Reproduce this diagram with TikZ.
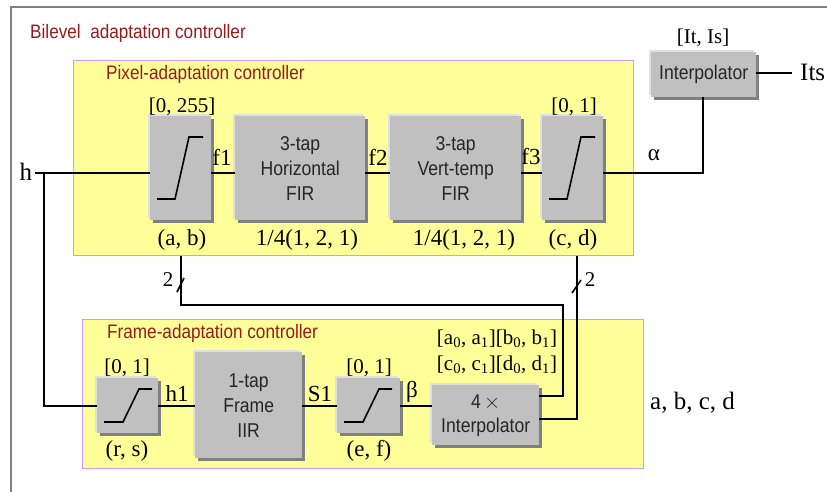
\documentclass[tikz,border=0pt]{standalone}
\usepackage{fontspec}
\setmainfont{Liberation Serif}
\newfontfamily\sansx[FakeStretch=0.88]{Liberation Sans}
\usetikzlibrary{shadows}
\definecolor{titlered}{RGB}{150,28,28}
\definecolor{padyellow}{RGB}{255,255,153}
\definecolor{padborder}{RGB}{204,153,255}
\definecolor{boxgray}{RGB}{192,192,192}
\definecolor{boxdark}{RGB}{128,128,128}
\definecolor{boxlight}{RGB}{224,224,224}
\tikzset{
  pad/.style={fill=padyellow, draw=padborder, line width=1.3pt, inner sep=0pt, anchor=north west},
  blockbox/.style={fill=boxgray, draw=none, inner sep=0pt, anchor=north west,
    general shadow={fill=boxlight, shadow xshift=-2pt, shadow yshift=2pt},
    general shadow={fill=boxdark, shadow xshift=3pt, shadow yshift=-3pt},
    font=\sansx\fontsize{20}{25}\selectfont, align=center, text=black!85},
  title/.style={anchor=west, inner sep=0pt, text=titlered, font=\sansx\fontsize{19.5}{22}\selectfont},
  lab/.style={inner sep=0pt, font=\fontsize{23}{26}\selectfont},
  brk/.style={inner sep=0pt, font=\fontsize{21}{24}\selectfont},
  big/.style={inner sep=0pt, font=\fontsize{25}{28}\selectfont},
  wire/.style={line width=1.6pt, black},
  curve/.style={line width=1.6pt, black},
}
\begin{document}
\begin{tikzpicture}[x=1pt,y=-1pt]
\useasboundingbox (0,0) rectangle (827,492);
\fill[white] (0,0) rectangle (827,492);
% outer frame
\draw[boxdark, line width=1.5pt] (11,492) -- (11,7) -- (827,7);
\node[title] (t0) at (30,33) {Bilevel\ \ adaptation controller};

% pads
\node[pad, minimum width=560pt, minimum height=195pt] (pixpad) at (73,60) {};
\node[pad, minimum width=561pt, minimum height=149pt] (framepad) at (82,319) {};
\node[title] (t1) at (106,74) {Pixel-adaptation controller};
\node[title] (t2) at (107,333) {Frame-adaptation controller};

% pixel blocks
\node[blockbox, minimum width=61pt, minimum height=104pt] (sat1) at (150,116) {};
\node[blockbox, minimum width=130pt, minimum height=104pt] (hfir) at (235,116) {3-tap\\Horizontal\\FIR};
\node[blockbox, minimum width=131pt, minimum height=104pt] (vfir) at (390,116) {3-tap\\Vert-temp\\FIR};
\node[blockbox, minimum width=61pt, minimum height=104pt] (sat2) at (542,116) {};
\node[blockbox, minimum width=105pt, minimum height=45pt] (interp) at (651,52) {Interpolator};

% frame blocks
\node[blockbox, minimum width=61pt, minimum height=55pt] (satr) at (97,378) {};
\node[blockbox, minimum width=107pt, minimum height=106pt] (iir) at (195,352) {1-tap\\Frame\\IIR};
\node[blockbox, minimum width=63pt, minimum height=55pt] (sate) at (337,378) {};
\node[blockbox, minimum width=107pt, minimum height=60pt] (interp4) at (432,385) {4\,$\times$\\[-1pt]Interpolator};

% saturation curves
\draw[curve] (157,199) -- (175,199) -- (189,137) -- (203,137);
\draw[curve] (549,199) -- (567,199) -- (581,137) -- (595,137);
\draw[curve] (104,422) -- (123,422) -- (139,389) -- (152,389);
\draw[curve] (344,422) -- (363,422) -- (379,389) -- (392,389);

% labels
\node[big] (lh) at (26,172) {h};
\node[brk] (l255) at (182,107) {[0, 255]};
\node[lab] (lab) at (182,240) {(a, b)};
\node[lab] (lf1) at (222,157) {f1};
\node[lab] (lf2) at (378,157) {f2};
\node[lab] (lf3) at (531,157) {f3};
\node[brk] (l01a) at (574,107) {[0, 1]};
\node[lab] (lcd) at (573,240) {(c, d)};
\node[lab] (lq1) at (307,240) {1/4(1, 2, 1)};
\node[lab] (lq2) at (464,240) {1/4(1, 2, 1)};
\node[lab] (lal) at (654,155) {α};
\node[brk] (lits) at (703,38) {[It, Is]};
\node[big, anchor=west] (lout) at (800,72) {Its};
\node[brk] (l01b) at (127,368) {[0, 1]};
\node[lab] (lrs) at (127,451) {(r, s)};
\node[lab] (lh1) at (177,394) {h1};
\node[lab] (ls1) at (320,394) {S1};
\node[brk] (l01c) at (369,368) {[0, 1]};
\node[lab] (lef) at (369,451) {(e, f)};
\node[lab] (lbe) at (412,392) {β};
\node[brk] (lab1) at (497,339) {[a\textsubscript{0}, a\textsubscript{1}][b\textsubscript{0}, b\textsubscript{1}]};
\node[brk] (lab2) at (497,365) {[c\textsubscript{0}, c\textsubscript{1}][d\textsubscript{0}, d\textsubscript{1}]};
\node[big, anchor=west] (labcd) at (650,403) {a, b, c, d};
\node[brk] (l2a) at (168,280) {2};
\node[brk] (l2b) at (590,280) {2};

% coordinates
\coordinate (hs) at (35,173);
\coordinate (hj) at (44,173);
\coordinate (aj) at (703,173);
\coordinate (oe) at (792,73);
\coordinate (b1) at (181,305);
\coordinate (b2) at (563,305);
\coordinate (c1) at (577,305);

% wires
\draw[wire] (hs) -- (sat1.west |- hs);
\draw[wire] (hj) |- (satr.west);
\draw[wire] (sat1.east |- hs) -- (hfir.west |- hs);
\draw[wire] (hfir.east |- hs) -- (vfir.west |- hs);
\draw[wire] (vfir.east |- hs) -- (sat2.west |- hs);
\draw[wire] (sat2.east |- hs) -- (aj) -- (interp.south -| aj);
\draw[wire] (interp.east |- oe) -- (oe);
\draw[wire] (pixpad.south -| b1) -- (b1) -- (b2) -- (b2 |- 0,396) -- (interp4.east |- 0,396);
\draw[wire] (pixpad.south -| c1) -- (c1 |- 0,419) -- (interp4.east |- 0,419);
\draw[wire] (satr.east) -- (iir.west |- satr.east);
\draw[wire] (iir.east |- satr.east) -- (sate.west |- satr.east);
\draw[wire] (sate.east) -- (interp4.west |- sate.east);
% bus slashes
\draw[wire] (177,292) -- (184,278);
\draw[wire] (572,293) -- (581,280);
\end{tikzpicture}
\end{document}
